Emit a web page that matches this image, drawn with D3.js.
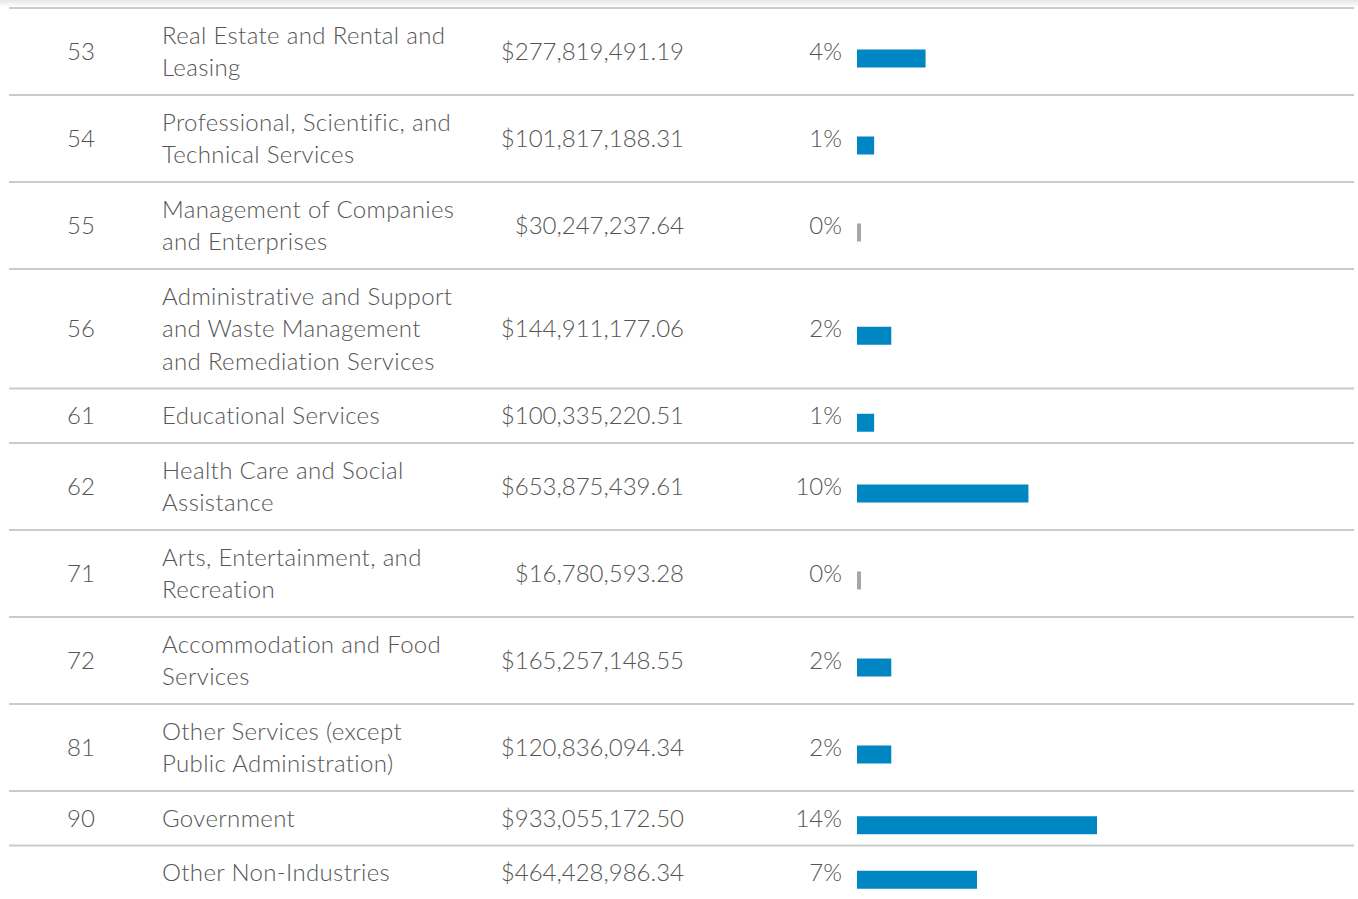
<!DOCTYPE html>
<html>
<head>
<meta charset="utf-8">
<script src="https://cdn.jsdelivr.net/npm/d3@7"></script>
<style>
  body { margin: 0; background: #fff; }
  text { font-family: Lato, "Open Sans", sans-serif; font-weight: 300; fill: #555; font-size: 24px; }
  .name { letter-spacing: 0.35px; }
</style>
</head>
<body>
<script>

var width = 1358, height = 899;

// table data
var codes = ["53", "54", "55", "56", "61", "62", "71", "72", "81", "90", ""];
var names = [
    "Real Estate and Rental and\nLeasing",
    "Professional, Scientific, and\nTechnical Services",
    "Management of Companies\nand Enterprises",
    "Administrative and Support\nand Waste Management\nand Remediation Services",
    "Educational Services",
    "Health Care and Social\nAssistance",
    "Arts, Entertainment, and\nRecreation",
    "Accommodation and Food\nServices",
    "Other Services (except\nPublic Administration)",
    "Government",
    "Other Non-Industries"
];
var amounts = [277819491.19, 101817188.31, 30247237.64, 144911177.06, 100335220.51,
    653875439.61, 16780593.28, 165257148.55, 120836094.34, 933055172.50, 464428986.34];
var percents = [4, 1, 0, 2, 1, 10, 0, 2, 2, 14, 7];

var lineH = 32.5, pad = 11, top0 = 8;
var col = {code: 81, name: 162, amount: 684, pct: 842, bar: 857};

var rows = codes.map(function(c, i) {
    return {code: c, lines: names[i].split("\n"), amount: amounts[i], pct: percents[i]};
});
var y0 = top0;
rows.forEach(function(r) {
    r.y = y0;
    r.h = r.lines.length * lineH + pad * 2;
    y0 += r.h;
});

var fmtMoney = d3.format("$,.2f");
var x = d3.scaleLinear()
    .domain([0, d3.max(percents)])
    .range([0, 240]);

var svg = d3.select("body").append("svg")
    .attr("width", width)
    .attr("height", height);

// faint shadow along the top edge
var grad = svg.append("defs").append("linearGradient")
    .attr("id", "shade").attr("x1", 0).attr("x2", 0).attr("y1", 0).attr("y2", 1);
grad.append("stop").attr("offset", "0%").attr("stop-color", "#e6e6e6");
grad.append("stop").attr("offset", "100%").attr("stop-color", "#fff");
svg.append("rect").attr("width", width).attr("height", 7).attr("fill", "url(#shade)");

// separator lines
svg.selectAll(".sep")
    .data(rows)
    .enter().append("line")
    .attr("class", "sep")
    .attr("x1", 9).attr("x2", 1354)
    .attr("y1", function(d) { return d.y; })
    .attr("y2", function(d) { return d.y; })
    .attr("stroke", "#cbcbcb")
    .attr("stroke-width", 2);

var row = svg.selectAll(".row")
    .data(rows)
    .enter().append("g")
    .attr("class", "row")
    .attr("transform", function(d) { return "translate(0," + (d.y + d.h / 2) + ")"; });

row.append("text")
    .attr("x", col.code)
    .attr("dy", "0.36em")
    .attr("text-anchor", "middle")
    .text(function(d) { return d.code; });

row.append("text")
    .attr("class", "name")
    .attr("x", col.name)
    .each(function(d) {
        var t = d3.select(this);
        var start = -(d.lines.length - 1) * lineH / 2;
        d.lines.forEach(function(l, j) {
            t.append("tspan")
                .attr("x", col.name)
                .attr("y", start + j * lineH)
                .attr("dy", "0.36em")
                .text(l);
        });
    });

row.append("text")
    .attr("x", col.amount)
    .attr("dy", "0.36em")
    .attr("text-anchor", "end")
    .text(function(d) { return fmtMoney(d.amount); });

row.append("text")
    .attr("x", col.pct)
    .attr("dy", "0.36em")
    .attr("text-anchor", "end")
    .text(function(d) { return d.pct + "%"; });

row.append("rect")
    .attr("x", col.bar)
    .attr("y", -2)
    .attr("height", 18)
    .attr("width", function(d) { return d.pct > 0 ? x(d.pct) : 4; })
    .attr("fill", function(d) { return d.pct > 0 ? "#0087c3" : "#a6a6a6"; });

</script>
</body>
</html>
